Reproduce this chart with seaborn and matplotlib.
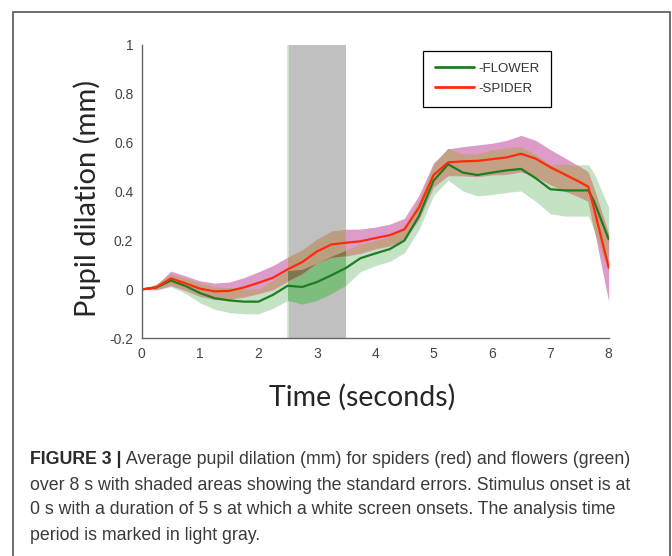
import matplotlib
matplotlib.use("Agg")
import matplotlib.pyplot as plt
import seaborn as sns
import numpy as np
import pandas as pd
from matplotlib.patches import Rectangle
from matplotlib import font_manager

# values (time in s, dilation in mm)
time = [0.00, 0.25, 0.50, 0.75, 1.00, 1.25, 1.50, 1.75, 2.00, 2.25, 2.50, 2.75,
        3.00, 3.25, 3.50, 3.75, 4.00, 4.25, 4.50, 4.75, 5.00, 5.25, 5.50, 5.75,
        6.00, 6.25, 6.50, 6.75, 7.00, 7.25, 7.50, 7.65, 7.75, 8.00]
spider_mean = [0.000, 0.008, 0.045, 0.025, 0.003, -0.008, -0.006, 0.008, 0.027, 0.048, 0.082, 0.112,
               0.155, 0.184, 0.191, 0.197, 0.210, 0.222, 0.246, 0.335, 0.468, 0.520, 0.524, 0.526,
               0.533, 0.540, 0.555, 0.535, 0.500, 0.470, 0.440, 0.420, 0.330, 0.089]
spider_se = [0.000, 0.010, 0.030, 0.030, 0.032, 0.034, 0.036, 0.040, 0.045, 0.050, 0.050, 0.050,
             0.050, 0.055, 0.055, 0.050, 0.045, 0.045, 0.045, 0.050, 0.050, 0.055, 0.060, 0.065,
             0.065, 0.070, 0.075, 0.075, 0.072, 0.068, 0.063, 0.060, 0.085, 0.140]
flower_mean = [0.000, 0.008, 0.036, 0.014, -0.015, -0.036, -0.045, -0.050, -0.050, -0.022, 0.015, 0.010,
               0.030, 0.058, 0.088, 0.128, 0.147, 0.165, 0.200, 0.300, 0.445, 0.512, 0.478, 0.468,
               0.478, 0.487, 0.493, 0.455, 0.410, 0.405, 0.405, 0.405, 0.360, 0.205]
flower_se = [0.000, 0.010, 0.025, 0.030, 0.040, 0.045, 0.050, 0.050, 0.050, 0.055, 0.060, 0.070,
             0.075, 0.075, 0.070, 0.055, 0.050, 0.050, 0.050, 0.055, 0.060, 0.065, 0.075, 0.085,
             0.090, 0.090, 0.090, 0.095, 0.100, 0.105, 0.105, 0.105, 0.115, 0.130]

stimuli = ["FLOWER", "SPIDER"]
x_ticks = [0, 1, 2, 3, 4, 5, 6, 7, 8]
y_ticks = [-0.2, 0, 0.2, 0.4, 0.6, 0.8, 1]
y_tick_labels = ["-0.2", "0", "0.2", "0.4", "0.6", "0.8", "1"]
analysis_window = (2.5, 3.5)

caption_bold = "FIGURE 3 |"
caption_lines = [
    " Average pupil dilation (mm) for spiders (red) and flowers (green)",
    "over 8 s with shaded areas showing the standard errors. Stimulus onset is at",
    "0 s with a duration of 5 s at which a white screen onsets. The analysis time",
    "period is marked in light gray.",
]

sns.set_style("white")
plt.rcParams["font.family"] = ["Liberation Sans", "DejaVu Sans"]

t = np.array(time)
sp_lo = np.array(spider_mean) - np.array(spider_se)
sp_hi = np.array(spider_mean) + np.array(spider_se)
fl_lo = np.array(flower_mean) - np.array(flower_se)
fl_hi = np.array(flower_mean) + np.array(flower_se)
both_lo = np.maximum(sp_lo, fl_lo)
both_hi = np.minimum(sp_hi, fl_hi)

df = pd.DataFrame({
    "time": time * 2,
    "dilation": flower_mean + spider_mean,
    "stimulus": [stimuli[0]] * len(time) + [stimuli[1]] * len(time),
})

W, H = 672, 556
fig = plt.figure(figsize=(W / 100, H / 100), dpi=100)
ax = fig.add_axes([141.7 / W, 1 - 338.3 / H, 467 / W, 293.3 / H])

ax.axvspan(*analysis_window, color="#c0c0c0", lw=0, zorder=0.5)
ax.axvline(analysis_window[0], color="#cfe6cf", lw=1.2, zorder=0.6)

# colours: (green only, pink only, overlap) outside / inside the gray window
out_cols = ("#c4e2c4", "#dd9bca", "#c4a184")
in_cols = ("#7dbd7d", "#bb9d80", "#7c7a4c")
regions = [((-1, analysis_window[0]), out_cols),
           (analysis_window, in_cols),
           ((analysis_window[1], 9), out_cols)]
for (x0, x1), (c_g, c_p, c_b) in regions:
    clip = Rectangle((x0, -1), x1 - x0, 3, transform=ax.transData)
    p1 = ax.fill_between(t, fl_lo, fl_hi, color=c_g, lw=0, zorder=1)
    p2 = ax.fill_between(t, sp_lo, sp_hi, color=c_p, lw=0, zorder=1.1)
    p3 = ax.fill_between(t, both_lo, both_hi, where=both_hi > both_lo, interpolate=True,
                         color=c_b, lw=0, zorder=1.2)
    for p in (p1, p2, p3):
        p.set_clip_path(clip)

sns.lineplot(data=df, x="time", y="dilation", hue="stimulus", hue_order=stimuli,
             palette={"FLOWER": "#1e7d1e", "SPIDER": "#ff2a0a"}, lw=1.6, ax=ax)

handles, labels = ax.get_legend_handles_labels()
leg = ax.legend(handles, ["-" + l for l in labels], loc="upper left",
                bbox_to_anchor=(0.602, 0.981), borderaxespad=0, fancybox=False,
                edgecolor="black", framealpha=1, fontsize=9.5, handlelength=3.0,
                handletextpad=0.3, borderpad=0.9, labelspacing=0.6)
leg.get_frame().set_linewidth(0.9)
for txt in leg.get_texts():
    txt.set_color("#333333")
for h in leg.get_lines():
    h.set_linewidth(2.0)

ax.set_xlim(0, 8)
ax.set_ylim(-0.2, 1)
ax.set_xticks(x_ticks)
ax.set_yticks(y_ticks)
ax.set_yticklabels(y_tick_labels)
sns.despine(ax=ax)
for s in ("left", "bottom"):
    ax.spines[s].set_color("#666666")
    ax.spines[s].set_linewidth(1.0)
ax.tick_params(direction="in", length=4, width=0.8, color="#666666",
               labelcolor="#444444", labelsize=10, pad=6)

ax.set_xlabel("Time (seconds)", family=["Lato", "DejaVu Sans"], fontsize=20.5, va="center")
ax.set_ylabel("Pupil dilation (mm)", family=["Lato", "DejaVu Sans"], fontsize=21, va="center")
ax.xaxis.set_label_coords((362 - 141.7) / 467, (338.3 - 397) / 293.3)
ax.yaxis.set_label_coords((87 - 141.7) / 467, (338.3 - 198.5) / 293.3)

# figure frame
fig.add_artist(Rectangle((13 / W, -0.01), (670 - 13) / W, 1.01 - 12 / H,
                         transform=fig.transFigure, fill=False,
                         edgecolor="#555555", lw=1.2))

# caption
names = {f.name for f in font_manager.fontManager.ttflist}
cap_font = "Liberation Sans Narrow" if "Liberation Sans Narrow" in names else "Liberation Sans"
line_y = [459, 485, 510, 535]
bold = fig.text(30 / W, 1 - line_y[0] / H, caption_bold, family=[cap_font, "DejaVu Sans"],
                fontweight="bold", fontsize=14, color="#2a2a2a", va="center")
texts = [bold]
first = ax.annotate(caption_lines[0], xy=(1, 0.5), xycoords=bold, va="center",
                    family=[cap_font, "DejaVu Sans"], fontsize=14, color="#3a3a3a",
                    annotation_clip=False)
texts.append(first)
for line, y in zip(caption_lines[1:], line_y[1:]):
    texts.append(fig.text(30 / W, 1 - y / H, line, family=[cap_font, "DejaVu Sans"],
                          fontsize=14, color="#3a3a3a", va="center"))

renderer = fig.canvas.get_renderer()
width = bold.get_window_extent(renderer).width + first.get_window_extent(renderer).width
scale = 603 / width
for tx in texts:
    tx.set_fontsize(14 * scale)

fig.savefig("out.png", dpi=100)
